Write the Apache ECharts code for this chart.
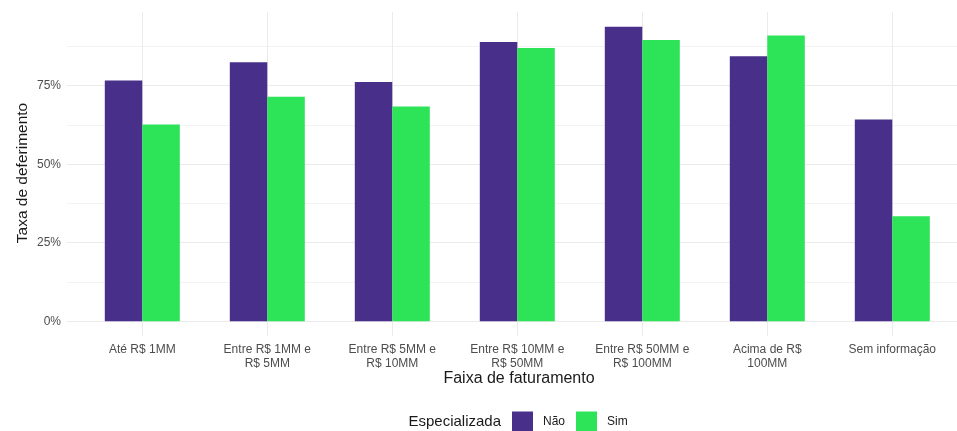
<!DOCTYPE html>
<html>
<head>
<meta charset="utf-8">
<script src="https://cdn.jsdelivr.net/npm/echarts@6/dist/echarts.min.js"></script>
<style>
html,body{margin:0;padding:0;background:#fff;}
#chart{width:957px;height:431px;}
</style>
</head>
<body>
<div id="chart"></div>
<script>
const categories = ['Até R$ 1MM', 'Entre R$ 1MM e\nR$ 5MM', 'Entre R$ 5MM e\nR$ 10MM', 'Entre R$ 10MM e\nR$ 50MM', 'Entre R$ 50MM e\nR$ 100MM', 'Acima de R$\n100MM', 'Sem informação'];
const seriesNames = ['Não', 'Sim'];
const naoValues = [0.768, 0.826, 0.763, 0.890, 0.939, 0.845, 0.643];
const simValues = [0.627, 0.716, 0.685, 0.871, 0.897, 0.911, 0.335];
const yTicks = [0, 0.25, 0.5, 0.75];

const FONT = 'Liberation Sans';
const chart = echarts.init(document.getElementById('chart'), null, {renderer: 'canvas'});

const major = '#ebebeb', minor = '#f3f3f3';
const option = {
  backgroundColor: '#ffffff',
  animation: false,
  textStyle: {fontFamily: FONT},
  grid: [
    {left: 67, right: 0, top: 7.1, bottom: 109.7},
    {left: 79.8, right: 2.2, top: 12, bottom: 95}
  ],
  xAxis: [
    {gridIndex: 0, type: 'value', min: 0, max: 1, show: false},
    {gridIndex: 1, type: 'category', data: categories,
     axisLine: {show: false}, axisTick: {show: false},
     axisLabel: {color: '#4d4d4d', fontSize: 12, fontFamily: FONT, margin: 7, lineHeight: 14, interval: 0},
     splitLine: {show: true, alignWithLabel: true, lineStyle: {color: major, width: 1}}}
  ],
  yAxis: [
    {gridIndex: 0, type: 'value', min: 0, max: 1, interval: 0.125,
     axisLine: {show: false}, axisTick: {show: false},
     axisLabel: {color: '#4d4d4d', fontSize: 12, fontFamily: FONT, margin: 6,
       formatter: function (v) {
         for (const t of yTicks) { if (Math.abs(v - t) < 1e-9) return Math.round(t * 100) + '%'; }
         return '';
       }},
     splitLine: {show: true, lineStyle: {width: 1, color: [major, minor, major, minor, major, minor, major, minor, 'rgba(0,0,0,0)']}}},
    {gridIndex: 1, type: 'value', min: -0.047, max: 0.986, show: false}
  ],
  legend: {
    left: 507, top: 406.5,
    itemWidth: 21, itemHeight: 20, itemGap: 11, icon: 'rect',
    textStyle: {color: '#1a1a1a', fontSize: 12, fontFamily: FONT, padding: [0, 0, 0, 5]},
    data: seriesNames
  },
  graphic: [
    {type: 'text', x: 23, y: 173, rotation: Math.PI / 2,
     style: {text: 'Taxa de deferimento', fill: '#1a1a1a', font: '15.5px "Liberation Sans"', align: 'center', verticalAlign: 'middle'}},
    {type: 'text', x: 519, y: 379,
     style: {text: 'Faixa de faturamento', fill: '#1a1a1a', font: '16px "Liberation Sans"', align: 'center', verticalAlign: 'middle'}},
    {type: 'text', x: 501, y: 421.5,
     style: {text: 'Especializada', fill: '#1a1a1a', font: '15px "Liberation Sans"', align: 'right', verticalAlign: 'middle'}}
  ],
  series: [
    {name: seriesNames[0], type: 'bar', xAxisIndex: 1, yAxisIndex: 1, data: naoValues,
     barWidth: 37.5, barGap: '0%', itemStyle: {color: '#472f8a'}},
    {name: seriesNames[1], type: 'bar', xAxisIndex: 1, yAxisIndex: 1, data: simValues,
     barWidth: 37.5, barGap: '0%', itemStyle: {color: '#2de358'}}
  ]
};
chart.setOption(option);
</script>
</body>
</html>
